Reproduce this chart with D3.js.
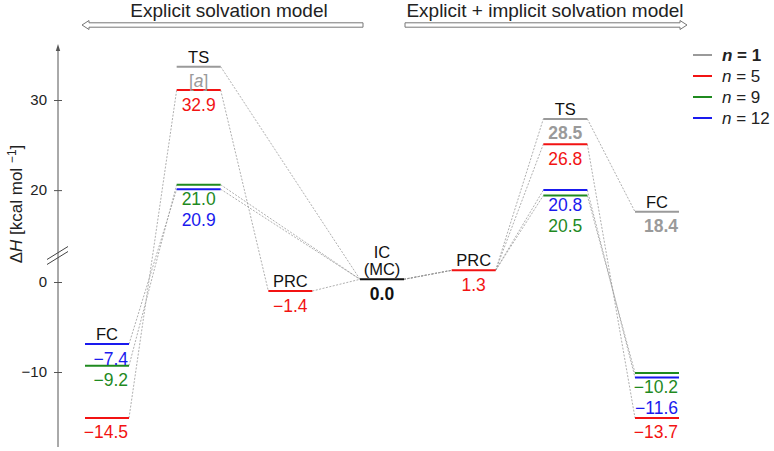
<!DOCTYPE html>
<html>
<head>
<meta charset="utf-8">
<script src="https://cdn.jsdelivr.net/npm/d3@7"></script>
<style>
  body { margin: 0; background: #fff; }
  svg { font-family: "Liberation Sans", Arial, sans-serif; }
</style>
</head>
<body>
<div id="chart"></div>
<script>
// size
var width = 774;
var height = 451;

// stages along the reaction path
const stages = ["FC", "TS", "PRC", "IC", "PRC", "TS", "FC"];
const seriesN = ["1", "5", "9", "12"];

// energies printed under each level (null = none)
const energyN1  = [null, null, null, null, null, 28.5, 18.4];
const energyN5  = [-14.5, 32.9, -1.4, null, 1.3, 26.8, -13.7];
const energyN9  = [-9.2, 21.0, null, null, null, 20.5, -10.2];
const energyN12 = [-7.4, 20.9, null, null, null, 20.8, -11.6];
const icEnergy = 0.0;
const n1Notes = [null, "a", null, null, null, null, null];   // TS (explicit), n = 1: footnote [a]

// where each level sits on the (schematic) axis
const levelN1  = [null, 33.7, null, null, null, 27.9, 17.6];
const levelN5  = [-15.1, 31.1, -1.0, null, 1.3, 25.1, -15.1];
const levelN9  = [-9.3, 20.6, null, null, null, 19.4, -10.1];
const levelN12 = [-6.9, 20.1, null, null, null, 20.0, -10.6];
const icLevel = 0.3;

const tickValues = [-10, 0, 20, 30];
const headers = ["Explicit solvation model", "Explicit + implicit solvation model"];

const seriesLevels = [levelN1, levelN5, levelN9, levelN12];
const seriesEnergies = [energyN1, energyN5, energyN9, energyN12];
const colors = ["#9a9a9a", "#f21313", "#1f8a1f", "#1a1aee"];

var svg = d3.select("#chart").append("svg")
  .attr("width", width)
  .attr("height", height);

// broken y axis: piecewise scale, nothing between 3 and 12.8
var y = d3.scaleLinear()
  .domain([-10, 3, 12.8, 30])
  .range([372, 255, 255, 100]);

var x = d3.scalePoint()
  .domain(d3.range(stages.length))
  .range([107, 657]);

var hw = 22;          // half width of a level
var axisX = 58;
var fmt = d3.format(".1f");

// ---- headers with hollow arrows
function hollowArrow(tipX, endX, yc) {
  var d = tipX < endX ? 1 : -1;
  var hl = 7, hh = 4.5, sh = 2.2;
  var p = d3.path();
  p.moveTo(tipX, yc);
  p.lineTo(tipX + d * hl, yc - hh);
  p.lineTo(tipX + d * hl, yc - sh);
  p.lineTo(endX, yc - sh);
  p.lineTo(endX, yc + sh);
  p.lineTo(tipX + d * hl, yc + sh);
  p.lineTo(tipX + d * hl, yc + hh);
  p.closePath();
  svg.append("path").attr("d", p.toString())
    .attr("fill", "#fff").attr("stroke", "#777").attr("stroke-width", 1);
}
hollowArrow(82, 363, 25);
hollowArrow(687, 405, 25);

svg.selectAll("text.header")
  .data(headers)
  .enter().append("text")
    .attr("class", "header")
    .attr("x", (d, i) => i == 0 ? 229 : 545)
    .attr("y", 17)
    .attr("text-anchor", "middle")
    .style("font-size", "19px")
    .attr("fill", "#222")
    .text(d => d);

// ---- y axis
var yAxis = d3.axisLeft(y).tickValues(tickValues).tickSize(4).tickPadding(7);
var gAxis = svg.append("g")
  .attr("transform", "translate(" + axisX + ",0)")
  .call(yAxis)
  .attr("font-family", null)
  .attr("font-size", null);
gAxis.select(".domain").remove();
gAxis.selectAll(".tick line").attr("x1", 4).attr("stroke", "#555");
gAxis.selectAll(".tick text").style("font-size", "15px").attr("fill", "#222");

svg.append("line")
  .attr("x1", axisX).attr("x2", axisX)
  .attr("y1", 447).attr("y2", 48)
  .attr("stroke", "#555").attr("stroke-width", 1);
svg.append("path")
  .attr("d", "M" + axisX + ",44 L" + (axisX - 2.2) + ",51 L" + (axisX + 2.2) + ",51 Z")
  .attr("fill", "#555");

// axis break marks
var by = y(3);
[-2.5, 2.5].forEach(function(o) {
  svg.append("line")
    .attr("x1", axisX - 11).attr("y1", by + 7 + o)
    .attr("x2", axisX + 10).attr("y2", by - 6 + o)
    .attr("stroke", "#444").attr("stroke-width", 1);
});

// y title
var yt = svg.append("text")
  .attr("transform", "translate(22,204) rotate(-90)")
  .attr("text-anchor", "middle")
  .style("font-size", "17px")
  .attr("fill", "#222");
yt.append("tspan").text("Δ");
yt.append("tspan").style("font-style", "italic").text("H");
yt.append("tspan").text(" [kcal mol ");
yt.append("tspan").attr("dy", -6).style("font-size", "12px").text("−1");
yt.append("tspan").attr("dy", 6).text("]");

// ---- build levels
var levels = [];
seriesLevels.forEach(function(arr, s) {
  arr.forEach(function(v, i) {
    if (v == null) return;
    levels.push({ s: s, i: i, v: v, e: seriesEnergies[s][i], color: colors[s],
                  bold: s == 0, note: s == 0 ? n1Notes[i] : null });
  });
});
levels.push({ s: -1, i: 3, v: icLevel, e: icEnergy, color: "#111", bold: true, note: null });

// connectors (dashed), each series walks through IC and the shared PRC
var connectorLines = [];
seriesLevels.forEach(function(arr, s) {
  var pts = [];
  arr.forEach(function(v, i) {
    var val = v != null ? v : (i == 3 ? icLevel : (i == 4 ? levelN5[4] : null));
    if (val != null) pts.push({ i: i, v: val });
  });
  for (var k = 1; k < pts.length; k++) connectorLines.push([pts[k - 1], pts[k]]);
});

svg.append("g").selectAll("line")
  .data(connectorLines)
  .enter().append("line")
    .attr("x1", d => x(d[0].i) + hw)
    .attr("y1", d => y(d[0].v))
    .attr("x2", d => x(d[1].i) - hw)
    .attr("y2", d => y(d[1].v))
    .attr("stroke", "#9a9a9a")
    .attr("stroke-width", 0.8)
    .style("stroke-dasharray", "2,1.5");

// level bars
svg.append("g").selectAll("line")
  .data(levels)
  .enter().append("line")
    .attr("x1", d => x(d.i) - hw)
    .attr("x2", d => x(d.i) + hw)
    .attr("y1", d => y(d.v))
    .attr("y2", d => y(d.v))
    .attr("stroke", d => d.color)
    .attr("stroke-width", 2);

// value labels, stacked under the levels of each stage
d3.range(stages.length).forEach(function(i) {
  var here = levels.filter(d => d.i == i).sort((a, b) => y(a.v) - y(b.v));
  var prev = -1e9;
  here.forEach(function(d) {
    var base = Math.max(y(d.v) + 20.5, prev + 21);
    prev = base;
    var right = (stages[i] == "FC");
    var t = svg.append("text")
      .attr("x", right ? x(i) + hw - 1 : x(i))
      .attr("y", base)
      .attr("text-anchor", right ? "end" : "middle")
      .style("font-size", "17.5px")
      .style("font-weight", d.bold && !d.note ? "bold" : null)
      .attr("fill", d.color);
    if (d.note) {
      t.append("tspan").text("[");
      t.append("tspan").style("font-style", "italic").text(d.note);
      t.append("tspan").text("]");
    } else {
      t.text(fmt(d.e));
    }
  });

  // stage name above top level
  var top = y(here[0].v);
  var names = i == 3 ? ["IC", "(MC)"] : [stages[i]];
  names.forEach(function(nm, k) {
    svg.append("text")
      .attr("x", x(i))
      .attr("y", top - 4 - (names.length - 1 - k) * 17)
      .attr("text-anchor", "middle")
      .style("font-size", "16.5px")
      .attr("fill", "#111")
      .text(nm);
  });
});

// ---- legend
var legend = svg.append("g").attr("transform", "translate(693,55)");
var rows = legend.selectAll("g")
  .data(seriesN)
  .enter().append("g")
    .attr("transform", (d, i) => "translate(0," + i * 21 + ")");
rows.append("line")
  .attr("x1", 0).attr("x2", 19)
  .attr("stroke", (d, i) => colors[i])
  .attr("stroke-width", 2);
var lt = rows.append("text")
  .attr("x", 29).attr("y", 6)
  .style("font-size", "17px")
  .style("font-weight", (d, i) => i == 0 ? "bold" : null)
  .attr("fill", "#222");
lt.append("tspan").style("font-style", "italic").text("n");
lt.append("tspan").text(d => " = " + d);
</script>
</body>
</html>
